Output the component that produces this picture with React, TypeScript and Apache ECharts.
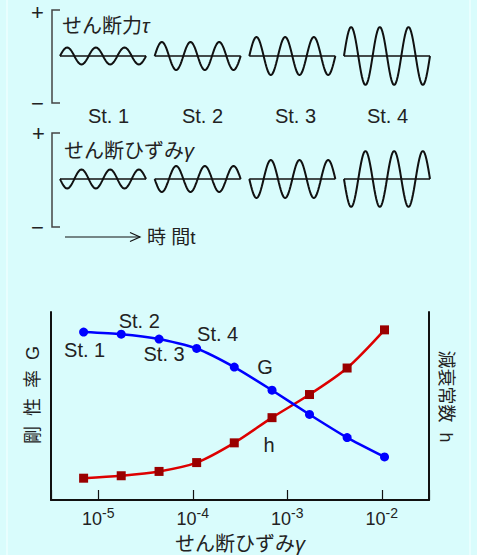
import React, { useEffect, useRef } from 'react';
import * as echarts from 'echarts';

// ---- data ----
const stageLabels = ['St. 1', 'St. 2', 'St. 3', 'St. 4'];
const stressAmplitude = [8.5, 14, 19, 29];
const strainAmplitude = [9.5, 13, 19, 28];
const cyclesPerStage = 3;
const stageStep = 3.3; // cycles between stage starts
const strainValues = [7e-6, 1.75e-5, 4.4e-5, 1.1e-4, 2.75e-4, 6.9e-4, 1.72e-3, 4.3e-3, 1.07e-2];
const shearModulusG = [89.3, 88.2, 85.6, 80.6, 70.7, 58.4, 45.5, 33.2, 22.9];
const dampingH = [11.6, 12.9, 15.2, 19.9, 30.4, 43.8, 56.1, 70.2, 90.5];
const stagePointIndex = [0, 1, 2, 3];

const FONT = "'Liberation Sans', 'Noto Sans CJK JP', sans-serif";
const TXT = '#222';
const BG = '#d9fcfc';

function wave(stage: number, amp: number, sign: number) {
  const start = stage * stageStep;
  const n = 32;
  const pts: number[][] = [];
  for (let k = 0; k <= cyclesPerStage * n; k++) {
    pts.push([start + k / n, sign * amp * Math.sin((2 * Math.PI * k) / n)]);
  }
  return pts;
}

export default function App() {
  const ref = useRef<HTMLDivElement>(null);
  useEffect(() => {
    if (!ref.current) return;
    const chart = echarts.init(ref.current, undefined, { renderer: 'svg' });
    const xMax = (stageLabels.length - 1) * stageStep + cyclesPerStage;

    const series: any[] = [];
    [stressAmplitude, strainAmplitude].forEach((amps, panel) => {
      amps.forEach((a, i) => {
        const start = i * stageStep;
        series.push({
          type: 'line', xAxisIndex: panel, yAxisIndex: panel, silent: true,
          showSymbol: false, data: [[start, 0], [start + cyclesPerStage, 0]],
          lineStyle: { color: '#111', width: 1.5 },
        });
        series.push({
          type: 'line', xAxisIndex: panel, yAxisIndex: panel, silent: true,
          showSymbol: false, data: wave(i, a, panel === 0 ? 1 : -1),
          lineStyle: { color: '#111', width: 2 },
        });
      });
    });

    const stOffsets = [[1, 18], [18, -13], [5, 15], [21, -14]];
    const gData = strainValues.map((x, i) => {
      const item: any = { value: [x, shearModulusG[i]] };
      const si = stagePointIndex.indexOf(i);
      if (si >= 0) {
        item.label = { show: true, formatter: stageLabels[si], position: 'inside', offset: stOffsets[si] };
      }
      if (i === 5) {
        item.label = { show: true, formatter: 'G', position: 'inside', offset: [-7, -23] };
      }
      return item;
    });
    const hData = strainValues.map((x, i) => {
      const item: any = { value: [x, dampingH[i]] };
      if (i === 5) item.label = { show: true, formatter: 'h', position: 'inside', offset: [-3, 27] };
      return item;
    });
    const labelStyle = { color: TXT, fontSize: 20, fontFamily: FONT, align: 'center', verticalAlign: 'middle' };

    series.push({
      type: 'line', xAxisIndex: 2, yAxisIndex: 2, data: gData, smooth: 0.2,
      symbol: 'circle', symbolSize: 9, lineStyle: { color: '#0000ff', width: 2.5 },
      itemStyle: { color: '#0000ff' }, label: labelStyle, z: 3,
    });
    series.push({
      type: 'line', xAxisIndex: 2, yAxisIndex: 3, data: hData, smooth: 0.3,
      symbol: 'rect', symbolSize: 9, lineStyle: { color: '#dd0000', width: 2.5 },
      itemStyle: { color: '#9a0000' }, label: labelStyle, z: 2,
    });

    const txt = (x: number, y: number, text: string, fontSize: number, extra: any = {}) => ({
      type: 'text', x, y, style: { text, fontSize, fill: TXT, fontFamily: FONT, align: 'center', verticalAlign: 'middle', ...extra },
    });
    const bracket = (top: number, bottom: number) => ({
      type: 'polyline', shape: { points: [[60, top], [52, top], [52, bottom], [60, bottom]] },
      style: { stroke: '#444', lineWidth: 1.5, fill: 'none' },
    });

    const graphic: any[] = [
      { type: 'line', shape: { x1: 7, y1: 0, x2: 7, y2: 555 }, style: { stroke: '#ecffff', lineWidth: 1.5 } },
      { type: 'line', shape: { x1: 470, y1: 0, x2: 470, y2: 555 }, style: { stroke: '#ecffff', lineWidth: 1.5 } },
      bracket(10, 103),
      bracket(133, 227),
      txt(37.5, 12, '+', 22),
      txt(37.5, 103, '−', 22),
      txt(38.5, 133.5, '+', 22),
      txt(37.5, 227, '−', 22),
      {
        type: 'text', x: 62, y: 25.5,
        style: {
          text: '{a|せん断力}{g|τ}', fill: TXT, align: 'left', verticalAlign: 'middle',
          rich: { a: { fontSize: 20, fontFamily: FONT, fill: TXT }, g: { fontSize: 20, fontFamily: FONT, fontStyle: 'italic', fill: TXT } },
        },
      },
      {
        type: 'text', x: 64, y: 150.5,
        style: {
          text: '{a|せん断ひずみ}{g|γ}', fill: TXT, align: 'left', verticalAlign: 'middle',
          rich: { a: { fontSize: 20, fontFamily: FONT, fill: TXT }, g: { fontSize: 20, fontFamily: FONT, fontStyle: 'italic', fill: TXT } },
        },
      },
      txt(108.5, 116, stageLabels[0], 20),
      txt(202.5, 116, stageLabels[1], 20),
      txt(295.5, 116, stageLabels[2], 20),
      txt(387.5, 116, stageLabels[3], 20),
      { type: 'line', shape: { x1: 65, y1: 237, x2: 140, y2: 237 }, style: { stroke: '#111', lineWidth: 1.2 } },
      { type: 'polyline', shape: { points: [[130, 232.5], [140, 237], [130, 241.5]] }, style: { stroke: '#111', lineWidth: 1.2, fill: 'none' } },
      txt(147, 237, '時 間t', 19, { align: 'left' }),
    ];

    chart.setOption({
      animation: false,
      backgroundColor: BG,
      textStyle: { fontFamily: FONT },
      grid: [
        { left: 60, top: 16, width: 370, height: 80 },
        { left: 60, top: 139, width: 370, height: 80 },
        { left: 51, top: 312, width: 378, height: 189 },
      ],
      xAxis: [
        { gridIndex: 0, type: 'value', min: 0, max: xMax, show: false },
        { gridIndex: 1, type: 'value', min: 0, max: xMax, show: false },
        {
          gridIndex: 2, type: 'log', logBase: 10, min: Math.pow(10, -5.5), max: Math.pow(10, -1.5),
          axisLine: { show: true, lineStyle: { color: '#111', width: 2 } },
          axisTick: { show: true, inside: true, length: 10, lineStyle: { color: '#111', width: 1.2 } },
          splitLine: { show: false },
          axisLabel: {
            margin: 6,
            formatter: (v: number) => {
              const l = Math.log10(v);
              const e = Math.round(l);
              if (Math.abs(l - e) > 0.01) return '';
              return '{b|10}{s|' + e + '}';
            },
            rich: {
              b: { fontSize: 18, color: TXT, fontFamily: FONT, verticalAlign: 'bottom' },
              s: { fontSize: 14, color: TXT, fontFamily: FONT, verticalAlign: 'bottom', padding: [0, 0, 8, 0] },
            },
          },
          name: '{a|せん断ひずみ}{g|γ}', nameLocation: 'middle', nameGap: 34,
          nameTextStyle: {
            rich: { a: { fontSize: 20, color: TXT, fontFamily: FONT }, g: { fontSize: 20, color: TXT, fontFamily: FONT, fontStyle: 'italic' } },
          },
        },
      ],
      yAxis: [
        { gridIndex: 0, type: 'value', min: -40, max: 40, show: false },
        { gridIndex: 1, type: 'value', min: -40, max: 40, show: false },
        {
          gridIndex: 2, type: 'value', min: 0, max: 100, position: 'left',
          axisLine: { show: true, lineStyle: { color: '#111', width: 2 } },
          axisTick: { show: false }, axisLabel: { show: false }, splitLine: { show: false },
          name: '剛  性  率  G', nameLocation: 'middle', nameRotate: 90, nameGap: 9,
          nameTextStyle: { fontSize: 18, color: TXT, fontFamily: FONT, padding: [0, 0, 0, 22] },
        },
        {
          gridIndex: 2, type: 'value', min: 0, max: 100, position: 'right',
          axisLine: { show: true, lineStyle: { color: '#111', width: 2 } },
          axisTick: { show: false }, axisLabel: { show: false }, splitLine: { show: false },
          name: '減衰常数  h', nameLocation: 'middle', nameRotate: -90, nameGap: 8,
          nameTextStyle: { fontSize: 18, color: TXT, fontFamily: FONT, padding: [0, 19, 0, 0] },
        },
      ],
      series,
      graphic,
    });
    return () => chart.dispose();
  }, []);
  return <div ref={ref} style={{ position: 'fixed', left: 0, top: 0, width: 477, height: 555 }} />;
}
